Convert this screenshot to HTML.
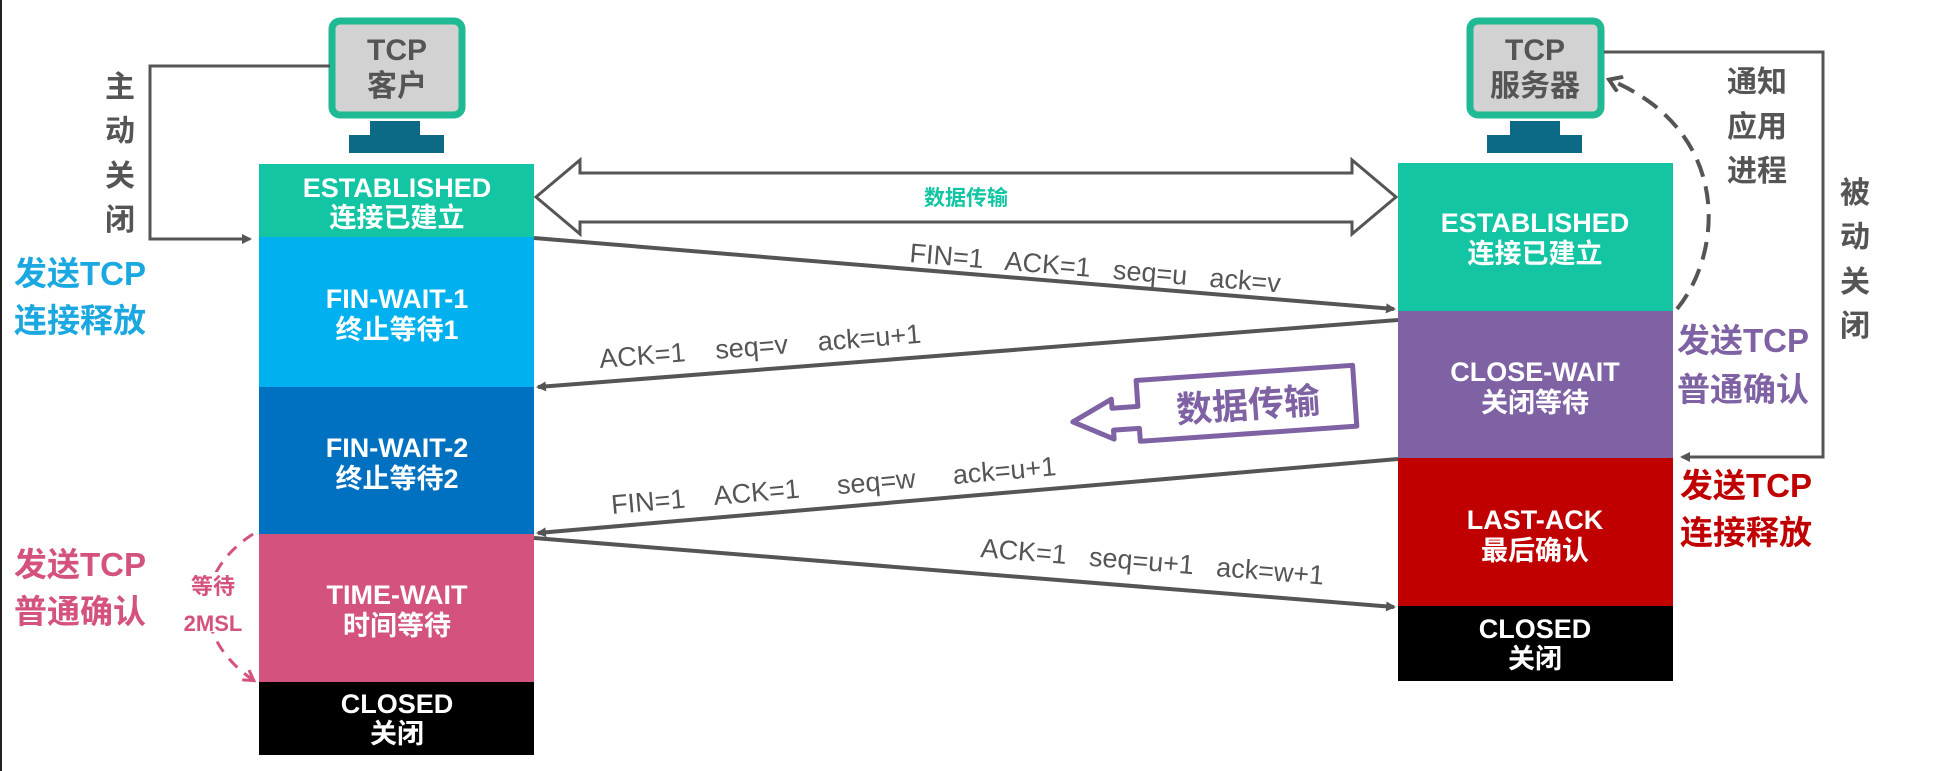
<!DOCTYPE html>
<html><head><meta charset="utf-8"><style>
html,body{margin:0;padding:0;background:#fff;}
svg{display:block;}
text{font-family:"Liberation Sans","Noto Sans CJK SC",sans-serif;}
</style></head><body>
<svg width="1936" height="771" viewBox="0 0 1936 771" xmlns="http://www.w3.org/2000/svg">
<defs>
<marker id="ah" markerWidth="10" markerHeight="10" refX="8" refY="5" orient="auto" markerUnits="userSpaceOnUse"><path d="M0,0 L10,5 L0,10 z" fill="#555"/></marker>
<marker id="ap" markerWidth="14" markerHeight="14" refX="10" refY="7" orient="auto" markerUnits="userSpaceOnUse"><path d="M1,1 L11,7 L1,13" fill="none" stroke="#d4527e" stroke-width="3"/></marker>
<marker id="ag" markerWidth="18" markerHeight="18" refX="12" refY="9" orient="auto" markerUnits="userSpaceOnUse"><path d="M1,1 L13,9 L1,17" fill="none" stroke="#555" stroke-width="4"/></marker>
</defs>
<rect x="0" y="0" width="2" height="771" fill="#222"/>

<!-- client monitor -->
<rect x="332" y="21" width="130" height="94" rx="8" fill="#d2d2d2" stroke="#1fb993" stroke-width="7"/>
<text x="397" y="60" font-size="30" font-weight="bold" fill="#555" text-anchor="middle">TCP</text>
<text x="397" y="96" font-size="30" font-weight="bold" fill="#555" text-anchor="middle">客户</text>
<rect x="370" y="121" width="50" height="15" fill="#0d6a86"/>
<rect x="349" y="135" width="95" height="18" fill="#0d6a86"/>

<!-- server monitor -->
<rect x="1470" y="21" width="131" height="94" rx="8" fill="#d2d2d2" stroke="#1fb993" stroke-width="7"/>
<text x="1535" y="60" font-size="30" font-weight="bold" fill="#555" text-anchor="middle">TCP</text>
<text x="1535" y="96" font-size="30" font-weight="bold" fill="#555" text-anchor="middle">服务器</text>
<rect x="1510" y="121" width="50" height="15" fill="#0d6a86"/>
<rect x="1487" y="135" width="95" height="18" fill="#0d6a86"/>

<!-- client column -->
<g font-weight="bold" fill="#fff" text-anchor="middle" font-size="27">
<rect x="259" y="164" width="275" height="73" fill="#13c5a3"/>
<text x="397" y="197">ESTABLISHED</text><text x="397" y="227">连接已建立</text>
<rect x="259" y="237" width="275" height="150" fill="#00b0ef"/>
<text x="397" y="308">FIN-WAIT-1</text><text x="397" y="339">终止等待1</text>
<rect x="259" y="387" width="275" height="147" fill="#0070c0"/>
<text x="397" y="457">FIN-WAIT-2</text><text x="397" y="488">终止等待2</text>
<rect x="259" y="534" width="275" height="148" fill="#d4527e"/>
<text x="397" y="604">TIME-WAIT</text><text x="397" y="635">时间等待</text>
<rect x="259" y="682" width="275" height="73" fill="#000"/>
<text x="397" y="713">CLOSED</text><text x="397" y="743">关闭</text>

<!-- server column -->
<rect x="1398" y="163" width="275" height="148" fill="#13c5a3"/>
<text x="1535" y="232">ESTABLISHED</text><text x="1535" y="263">连接已建立</text>
<rect x="1398" y="311" width="275" height="147" fill="#7e62a3"/>
<text x="1535" y="381">CLOSE-WAIT</text><text x="1535" y="412">关闭等待</text>
<rect x="1398" y="458" width="275" height="148" fill="#c00000"/>
<text x="1535" y="529">LAST-ACK</text><text x="1535" y="560">最后确认</text>
<rect x="1398" y="606" width="275" height="75" fill="#000"/>
<text x="1535" y="638">CLOSED</text><text x="1535" y="668">关闭</text>
</g>

<!-- 主动关闭 -->
<polyline points="330,66 150,66 150,239 250,239" fill="none" stroke="#555" stroke-width="3" marker-end="url(#ah)"/>
<g font-size="30" font-weight="bold" fill="#555" text-anchor="middle">
<text x="120" y="97">主</text><text x="120" y="141">动</text><text x="120" y="186">关</text><text x="120" y="230">闭</text>
</g>
<!-- 被动关闭 -->
<polyline points="1604,52 1823,52 1823,457 1682,457" fill="none" stroke="#555" stroke-width="3" marker-end="url(#ah)"/>
<g font-size="30" font-weight="bold" fill="#555" text-anchor="middle">
<text x="1855" y="203">被</text><text x="1855" y="247">动</text><text x="1855" y="292">关</text><text x="1855" y="336">闭</text>
<text x="1757" y="92">通知</text><text x="1757" y="137">应用</text><text x="1757" y="181">进程</text>
</g>
<path d="M1677,309 C1725,250 1730,130 1610,80" fill="none" stroke="#555" stroke-width="4" stroke-dasharray="18,10" marker-end="url(#ag)"/>

<!-- side labels -->
<g font-size="33" font-weight="bold">
<text x="14" y="285" fill="#1ba8e0">发送TCP</text><text x="14" y="332" fill="#1ba8e0">连接释放</text>
<text x="14" y="576" fill="#d4527e">发送TCP</text><text x="14" y="623" fill="#d4527e">普通确认</text>
<text x="1677" y="352" fill="#7e62a3">发送TCP</text><text x="1677" y="401" fill="#7e62a3">普通确认</text>
<text x="1680" y="497" fill="#c00000">发送TCP</text><text x="1680" y="544" fill="#c00000">连接释放</text>
</g>
<path d="M253,534 C190,575 195,640 253,680" fill="none" stroke="#d4527e" stroke-width="3" stroke-dasharray="12,9" marker-end="url(#ap)"/>
<rect x="180" y="572" width="66" height="60" fill="#fff"/>
<text x="213" y="594" font-size="22" font-weight="bold" fill="#d4527e" text-anchor="middle">等待</text>
<text x="213" y="631" font-size="22" font-weight="bold" fill="#d4527e" text-anchor="middle">2MSL</text>

<!-- double arrow -->
<path d="M536,197 L580,160 L580,173 L1352,173 L1352,160 L1396,197 L1352,234 L1352,222 L580,222 L580,234 Z" fill="#fff" stroke="#555" stroke-width="3"/>
<text x="966" y="205" font-size="21" font-weight="bold" fill="#13c5a3" text-anchor="middle">数据传输</text>

<!-- message arrows -->
<g stroke="#555" stroke-width="4" fill="none">
<line x1="534" y1="238" x2="1394" y2="309" marker-end="url(#ah)"/>
<line x1="1398" y1="320" x2="538" y2="387" marker-end="url(#ah)"/>
<line x1="1398" y1="459" x2="538" y2="533" marker-end="url(#ah)"/>
<line x1="534" y1="538" x2="1394" y2="607" marker-end="url(#ah)"/>
</g>
<g font-size="27" fill="#555">
<text transform="translate(909,262) rotate(4.7)" xml:space="preserve">FIN=1   ACK=1   seq=u   ack=v</text>
<text transform="translate(600,368) rotate(-4.5)" xml:space="preserve">ACK=1    seq=v    ack=u+1</text>
<text transform="translate(612,514) rotate(-5)" xml:space="preserve">FIN=1    ACK=1     seq=w     ack=u+1</text>
<text transform="translate(980,557) rotate(4.6)" xml:space="preserve">ACK=1   seq=u+1   ack=w+1</text>
</g>

<!-- purple data arrow -->
<g transform="rotate(-4 1215 405)">
<path d="M1072,412 L1112,392 L1112,401 L1138,401 L1138,375 L1355,375 L1355,436 L1138,436 L1138,423 L1112,423 L1112,432 Z" fill="#fff" stroke="#7e62a3" stroke-width="5" stroke-linejoin="round"/>
<text x="1248" y="420" font-size="36" font-weight="bold" fill="#7e62a3" text-anchor="middle">数据传输</text>
</g>
</svg>
</body></html>
